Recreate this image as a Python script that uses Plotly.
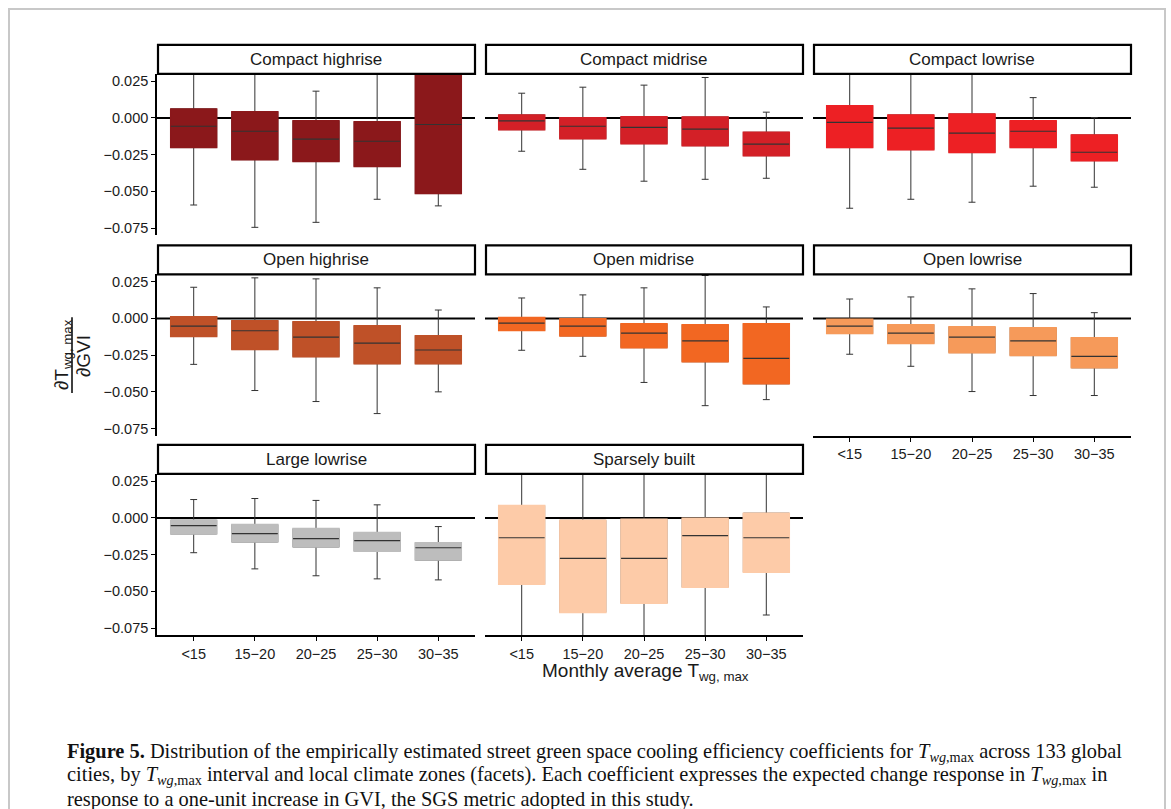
import plotly.graph_objects as go

W, H = 1171, 809

categories = ["<15", "15−20", "20−25", "25−30", "30−35"]
zones = ["Compact highrise", "Compact midrise", "Compact lowrise",
         "Open highrise", "Open midrise", "Open lowrise",
         "Large lowrise", "Sparsely built"]
colors = ["#8B181B", "#D32027", "#ED2024", "#BF5128", "#F26722", "#F69A5A",
          "#BDBDBD", "#FDCBA8"]

# per-zone box statistics (values above 0.03 / below -0.08 are cut by the axis range)
ch_q3 = [0.0061, 0.0041, -0.0020, -0.0027, 0.045]
ch_med = [-0.0057, -0.0091, -0.0145, -0.0159, -0.0045]
ch_q1 = [-0.0202, -0.0284, -0.0297, -0.0331, -0.0515]
ch_hi = [0.050, 0.055, 0.0182, 0.050, 0.100]
ch_lo = [-0.0593, -0.0745, -0.0711, -0.0554, -0.0599]

cm_q3 = [0.0020, 0.0000, 0.0007, 0.0006, -0.0098]
cm_med = [-0.0020, -0.0057, -0.0064, -0.0077, -0.0179]
cm_q1 = [-0.0080, -0.0141, -0.0175, -0.0189, -0.0257]
cm_hi = [0.0168, 0.0209, 0.0223, 0.0275, 0.0039]
cm_lo = [-0.0227, -0.0350, -0.0431, -0.0418, -0.0411]

cl_q3 = [0.0082, 0.0020, 0.0027, -0.0020, -0.0116]
cl_med = [-0.0030, -0.0070, -0.0104, -0.0091, -0.0234]
cl_q1 = [-0.0202, -0.0216, -0.0236, -0.0202, -0.0291]
cl_hi = [0.050, 0.045, 0.050, 0.0138, 0.0002]
cl_lo = [-0.0615, -0.0554, -0.0574, -0.0465, -0.0472]

oh_q3 = [0.0011, -0.0016, -0.0023, -0.0050, -0.0119]
oh_med = [-0.0053, -0.0084, -0.0128, -0.0169, -0.0215]
oh_q1 = [-0.0123, -0.0212, -0.0260, -0.0308, -0.0308]
oh_hi = [0.0212, 0.0276, 0.0269, 0.0208, 0.0057]
oh_lo = [-0.0313, -0.0491, -0.0566, -0.0648, -0.0500]

om_q3 = [0.0005, -0.0002, -0.0037, -0.0043, -0.0037]
om_med = [-0.0032, -0.0053, -0.0100, -0.0153, -0.0272]
om_q1 = [-0.0082, -0.0119, -0.0199, -0.0295, -0.0445]
om_hi = [0.0139, 0.0160, 0.0208, 0.0292, 0.0078]
om_lo = [-0.0217, -0.0258, -0.0436, -0.0594, -0.0553]

ol_q3 = [-0.0007, -0.0043, -0.0057, -0.0064, -0.0132]
ol_med = [-0.0053, -0.0100, -0.0128, -0.0153, -0.0258]
ol_q1 = [-0.0103, -0.0171, -0.0233, -0.0253, -0.0336]
ol_hi = [0.0132, 0.0146, 0.0201, 0.0169, 0.0039]
ol_lo = [-0.0244, -0.0326, -0.0498, -0.0525, -0.0525]

ll_q3 = [-0.0016, -0.0046, -0.0073, -0.0100, -0.0169]
ll_med = [-0.0052, -0.0107, -0.0141, -0.0155, -0.0203]
ll_q1 = [-0.0109, -0.0164, -0.0198, -0.0226, -0.0287]
ll_hi = [0.0125, 0.0132, 0.0119, 0.0089, -0.0059]
ll_lo = [-0.0237, -0.0347, -0.0394, -0.0415, -0.0422]

sb_q3 = [0.0084, -0.0016, -0.0009, -0.0002, 0.0032]
sb_med = [-0.0135, -0.0276, -0.0276, -0.0121, -0.0135]
sb_q1 = [-0.0451, -0.0643, -0.0581, -0.0472, -0.0369]
sb_hi = [0.060, 0.050, 0.055, 0.060, 0.050]
sb_lo = [-0.100, -0.110, -0.100, -0.105, -0.0661]

stats = [
    (ch_q1, ch_med, ch_q3, ch_lo, ch_hi),
    (cm_q1, cm_med, cm_q3, cm_lo, cm_hi),
    (cl_q1, cl_med, cl_q3, cl_lo, cl_hi),
    (oh_q1, oh_med, oh_q3, oh_lo, oh_hi),
    (om_q1, om_med, om_q3, om_lo, om_hi),
    (ol_q1, ol_med, ol_q3, ol_lo, ol_hi),
    (ll_q1, ll_med, ll_q3, ll_lo, ll_hi),
    (sb_q1, sb_med, sb_q3, sb_lo, sb_hi),
]

y_ticks = [0.025, 0.0, -0.025, -0.05, -0.075]

# ---- layout geometry (pixels) ----
cols_px = [(157, 475), (485, 803), (813, 1131)]
rows_px = [(73, 235), (274, 436), (474, 636)]
strip_h = 29
FONT = "Liberation Sans, Arial, sans-serif"
TXT = "#1a1a1a"
BOX_W = 0.75


def px_x(p):
    return p / W


def px_y(p):
    return 1 - p / H


fig = go.Figure()
layout = dict(
    width=W, height=H, margin=dict(l=0, r=0, t=0, b=0),
    paper_bgcolor="white", plot_bgcolor="white", showlegend=False,
    font=dict(family=FONT, color=TXT),
)
shapes = []
annotations = []

# frame
shapes.append(dict(type="rect", xref="paper", yref="paper",
                   x0=px_x(9), x1=px_x(1165), y0=px_y(8), y1=px_y(815),
                   line=dict(color="#c8c8c8", width=2), fillcolor="rgba(0,0,0,0)"))

xpos = list(range(len(categories)))
for k, zone in enumerate(zones):
    r, c = divmod(k, 3)
    n = k + 1
    xa = "x" if n == 1 else f"x{n}"
    ya = "y" if n == 1 else f"y{n}"
    xl, xr = cols_px[c]
    yt, yb = rows_px[r]
    bottom_axis = zone in ("Open lowrise", "Large lowrise", "Sparsely built")
    left_axis = c == 0
    layout[f"xaxis{'' if n == 1 else n}"] = dict(
        domain=[px_x(xl), px_x(xr)], anchor=ya, range=[-0.6, 4.6],
        tickvals=xpos, ticktext=categories, showgrid=False, zeroline=False,
        showline=bottom_axis, linecolor="black", linewidth=1.6,
        ticks="outside" if bottom_axis else "", ticklen=4, tickwidth=1.4, tickcolor="black",
        showticklabels=bottom_axis, tickfont=dict(size=14.5, color=TXT, family=FONT),
        fixedrange=True,
    )
    layout[f"yaxis{'' if n == 1 else n}"] = dict(
        domain=[px_y(yb), px_y(yt)], anchor=xa, range=[-0.08, 0.03],
        tickvals=y_ticks, tickformat=".3f", showgrid=False, zeroline=False,
        showline=left_axis, linecolor="black", linewidth=1.6,
        ticks="outside" if left_axis else "", ticklen=4, tickwidth=1.4, tickcolor="black",
        showticklabels=left_axis, tickfont=dict(size=14.5, color=TXT, family=FONT),
        fixedrange=True,
    )
    q1, med, q3, lo, hi = stats[k]
    col = colors[k]
    # whiskers + box (dark lines)
    fig.add_trace(go.Box(
        x=xpos, q1=q1, median=med, q3=q3, lowerfence=lo, upperfence=hi,
        width=BOX_W, whiskerwidth=0.15, boxpoints=False,
        line=dict(color="#333333", width=1), fillcolor=col,
        xaxis=xa, yaxis=ya, hoverinfo="skip"))
    # cover box outline in fill colour
    fig.add_trace(go.Box(
        x=xpos, q1=q1, median=med, q3=q3, lowerfence=q1, upperfence=q3,
        width=BOX_W, whiskerwidth=0, boxpoints=False,
        line=dict(color=col, width=1.6), fillcolor=col,
        xaxis=xa, yaxis=ya, hoverinfo="skip"))
    # medians
    mx, my = [], []
    for i, m in enumerate(med):
        mx += [i - BOX_W / 2, i + BOX_W / 2, None]
        my += [m, m, None]
    fig.add_trace(go.Scatter(x=mx, y=my, mode="lines",
                             line=dict(color="#333333", width=1.2),
                             xaxis=xa, yaxis=ya, hoverinfo="skip"))
    # zero line
    shapes.append(dict(type="line", xref=f"{xa} domain", yref=ya,
                       x0=0, x1=1, y0=0, y1=0, layer="below",
                       line=dict(color="black", width=2)))
    # strip
    st = yt - strip_h
    shapes.append(dict(type="rect", xref="paper", yref="paper",
                       x0=px_x(xl + 1), x1=px_x(xr), y0=px_y(yt), y1=px_y(st),
                       line=dict(color="black", width=2.2), fillcolor="white"))
    annotations.append(dict(xref="paper", yref="paper",
                            x=px_x((xl + xr) / 2), y=px_y(st + strip_h / 2),
                            text=zone, showarrow=False, xanchor="center", yanchor="middle",
                            font=dict(size=17, color=TXT, family=FONT)))

# y-axis title as a fraction
annotations.append(dict(xref="paper", yref="paper", x=px_x(63), y=px_y(355),
                        text="∂T<sub>wg, max</sub>", textangle=-90, showarrow=False,
                        xanchor="center", yanchor="middle",
                        font=dict(size=19, color=TXT, family=FONT)))
annotations.append(dict(xref="paper", yref="paper", x=px_x(83), y=px_y(356),
                        text="∂GVI", textangle=-90, showarrow=False,
                        xanchor="center", yanchor="middle",
                        font=dict(size=19, color=TXT, family=FONT)))
shapes.append(dict(type="line", xref="paper", yref="paper",
                   x0=px_x(72), x1=px_x(72), y0=px_y(317), y1=px_y(393),
                   line=dict(color="black", width=1.5)))

# x-axis title
annotations.append(dict(xref="paper", yref="paper", x=px_x(645), y=px_y(673),
                        text="Monthly average T<sub>wg, max</sub>", showarrow=False,
                        xanchor="center", yanchor="middle",
                        font=dict(size=19, color=TXT, family=FONT)))

# caption
SERIF = "Liberation Serif, Times New Roman, serif"
tw = "<i>T</i><sub><i>wg</i>,max</sub>"
cap_lines = [
    "<b>Figure 5.</b> Distribution of the empirically estimated street green space cooling efficiency coefficients for "
    + tw + " across 133 global",
    "cities, by " + tw + " interval and local climate zones (facets). Each coefficient expresses the expected change response in "
    + tw + " in",
    "response to a one-unit increase in GVI, the SGS metric adopted in this study.",
]
for i, line in enumerate(cap_lines):
    annotations.append(dict(xref="paper", yref="paper", x=px_x(65), y=px_y(753 + i * 23.5),
                            text=line, showarrow=False, xanchor="left", yanchor="middle",
                            font=dict(size=20.4, color="#111111", family=SERIF)))

layout["shapes"] = shapes
layout["annotations"] = annotations
fig.update_layout(**layout)
fig.write_html("out.html", config={"displayModeBar": False},
               post_script="document.body.style.margin='0';document.body.style.overflow='hidden';")
